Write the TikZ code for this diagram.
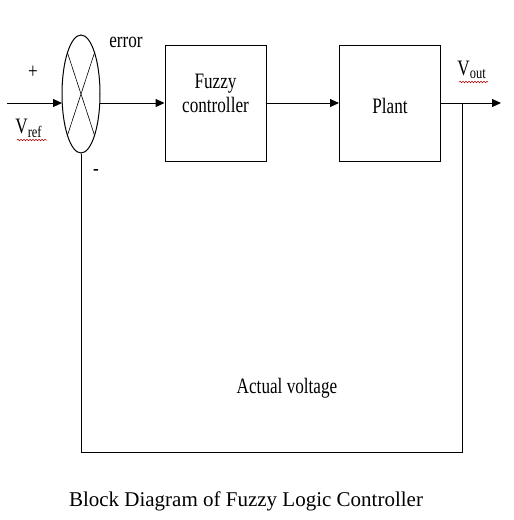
\documentclass[tikz,border=0pt]{standalone}
\usepackage{fontspec}
\setmainfont{Liberation Serif}
\usetikzlibrary{arrows.meta,shapes.geometric,decorations.pathmorphing}
\begin{document}
\begin{tikzpicture}[x=1pt,y=-1pt,
  line width=1pt,
  arr/.style={-{Triangle[length=9pt,width=8pt]}},
  blockbox/.style={draw,minimum width=101pt,minimum height=116pt,inner sep=0pt},
  lbl/.style={font=\fontsize{22}{24}\selectfont,xscale=0.78,inner sep=0pt},
  squig/.style={draw=red!70!black,line width=0.5pt,decorate,decoration={snake,amplitude=0.8pt,segment length=3pt}}]
\useasboundingbox (0,0) rectangle (514,520);
\node[draw,ellipse,minimum width=38pt,minimum height=118pt,inner sep=0pt] (sum) at (81,94) {};
\draw[line width=0.6pt] (sum.north west) -- (sum.south east);
\draw[line width=0.6pt] (sum.north east) -- (sum.south west);
\coordinate (in) at (7,103);
\coordinate (sumin) at (62,103);
\coordinate (sumout) at (100,103);
\node[blockbox] (fuzzy) at (215.5,103) {};
\node[lbl,align=center] (fuzzytxt) at (215.5,93) {Fuzzy\\controller};
\node[lbl] (planttxt) at (390,106) {Plant};
\node[blockbox] (plant) at (390,103) {};
\coordinate (tap) at (462,103);
\coordinate (out) at (501,103);
\coordinate (br) at (462,452);
\coordinate (bl) at (81,452);
\draw[arr] (in) -- (sumin);
\draw[arr] (sumout) -- (fuzzy.west);
\draw[arr] (fuzzy.east) -- (plant.west);
\draw[arr] (plant.east) -- (out);
\draw (tap) -- (br) -- (bl) -- (sum.south);
\node[lbl] (plus) at (33,72) {+};
\node[lbl] (minus) at (96,172) {-};
\node[lbl] (err) at (126,42) {error};
\node[lbl,anchor=west] (vref) at (15,128) {V\textsubscript{\fontsize{16}{16}\selectfont ref}};
\node[lbl,anchor=west] (vout) at (457,70) {V\textsubscript{\fontsize{16}{16}\selectfont out}};
\draw[squig] (17,140) -- (47,140);
\draw[squig] (459,82) -- (488,82);
\node[lbl] (act) at (287,388) {Actual voltage};
\node[font=\fontsize{21}{24}\selectfont,inner sep=0pt] (cap) at (246,501) {Block Diagram of Fuzzy Logic Controller};
\end{tikzpicture}
\end{document}
